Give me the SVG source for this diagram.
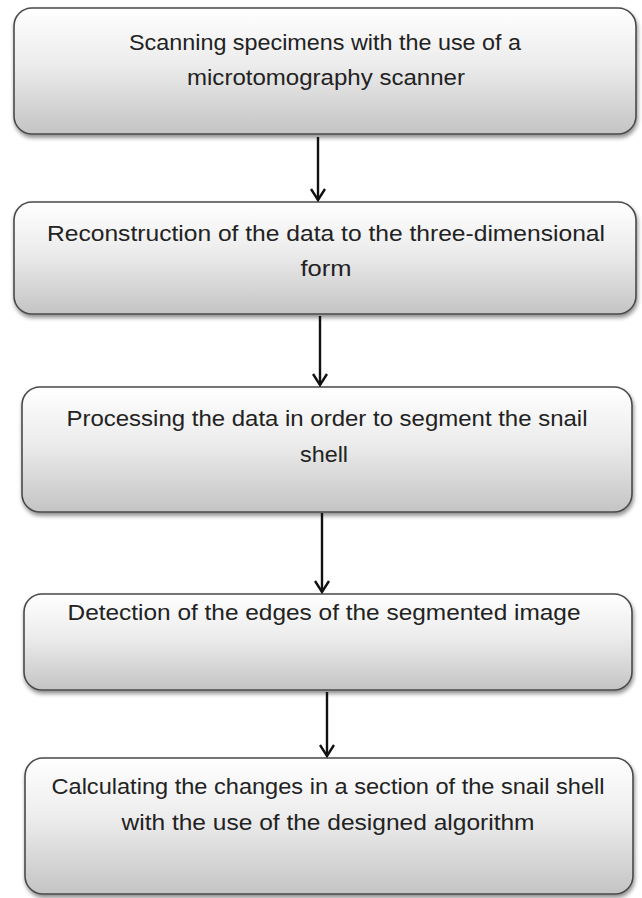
<svg xmlns="http://www.w3.org/2000/svg" width="642" height="898" viewBox="0 0 642 898">
<defs>
<linearGradient id="g" x1="0" y1="0" x2="0" y2="1">
<stop offset="0" stop-color="#ffffff"/>
<stop offset="0.45" stop-color="#ececec"/>
<stop offset="1" stop-color="#c4c4c4"/>
</linearGradient>
<filter id="sh" x="-5%" y="-10%" width="110%" height="125%">
<feGaussianBlur in="SourceAlpha" stdDeviation="2"/>
<feOffset dx="1" dy="3"/>
<feComponentTransfer><feFuncA type="linear" slope="0.45"/></feComponentTransfer>
<feMerge><feMergeNode/><feMergeNode in="SourceGraphic"/></feMerge>
</filter>
<marker id="ah" markerWidth="14" markerHeight="16" refX="12" refY="8" orient="auto" markerUnits="userSpaceOnUse" viewBox="0 0 14 16">
<path d="M1,1 L12,8 L1,15" fill="none" stroke="#111" stroke-width="2.4"/>
</marker>
</defs>
<style>
.box{fill:url(#g);stroke:#4a4a4a;stroke-width:1.6;filter:url(#sh)}
.t{font-family:"Liberation Sans",Arial,sans-serif;font-size:22px;fill:#222;text-anchor:middle}
.c{stroke:#111;stroke-width:2.4;fill:none;marker-end:url(#ah)}
</style>
<rect width="642" height="898" fill="#fff"/>
<g id="n1"><rect class="box" x="14" y="8" width="622" height="126" rx="18"/>
<text class="t" x="325" y="50" textLength="392" lengthAdjust="spacingAndGlyphs">Scanning specimens with the use of a</text>
<text class="t" x="326" y="85" textLength="278" lengthAdjust="spacingAndGlyphs">microtomography scanner</text></g>
<g id="n2"><rect class="box" x="14" y="202" width="622" height="112" rx="18"/>
<text class="t" x="326" y="241" textLength="558" lengthAdjust="spacingAndGlyphs">Reconstruction of the data to the three-dimensional</text>
<text class="t" x="326" y="276" textLength="51" lengthAdjust="spacingAndGlyphs">form</text></g>
<g id="n3"><rect class="box" x="22" y="387" width="610" height="125" rx="18"/>
<text class="t" x="327" y="426" textLength="521" lengthAdjust="spacingAndGlyphs">Processing the data in order to segment the snail</text>
<text class="t" x="324" y="462" textLength="48" lengthAdjust="spacingAndGlyphs">shell</text></g>
<g id="n4"><rect class="box" x="24" y="594" width="608" height="96" rx="18"/>
<text class="t" x="324" y="620" textLength="513" lengthAdjust="spacingAndGlyphs">Detection of the edges of the segmented image</text></g>
<g id="n5"><rect class="box" x="25" y="758" width="608" height="136" rx="18"/>
<text class="t" x="328" y="794" textLength="553" lengthAdjust="spacingAndGlyphs">Calculating the changes in a section of the snail shell</text>
<text class="t" x="328" y="830" textLength="413" lengthAdjust="spacingAndGlyphs">with the use of the designed algorithm</text></g>
<g id="connectors">
<line class="c" x1="318" y1="137" x2="318" y2="200"/>
<line class="c" x1="320" y1="316" x2="320" y2="385"/>
<line class="c" x1="322" y1="513" x2="322" y2="592"/>
<line class="c" x1="327" y1="692" x2="327" y2="756"/>
</g>
</svg>
